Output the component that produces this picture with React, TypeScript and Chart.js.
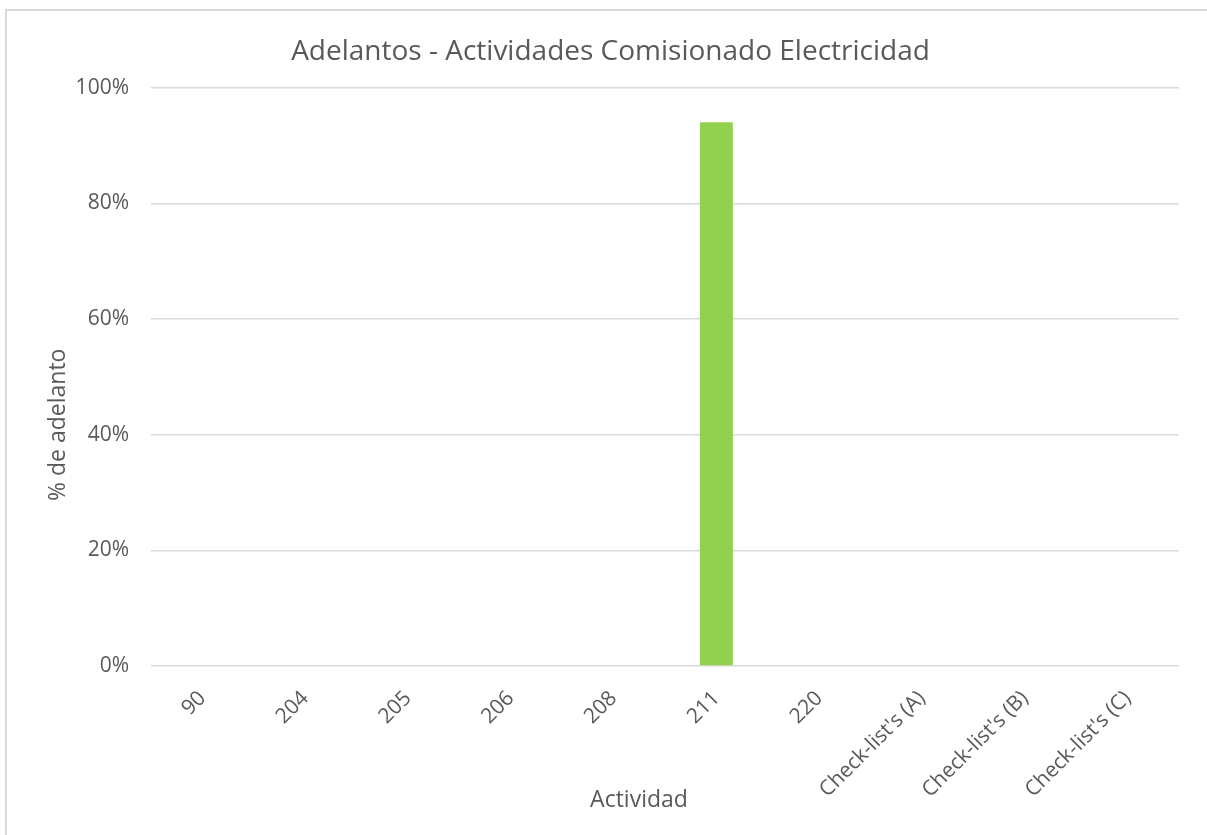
import React, { useEffect, useRef } from "react";
import { Chart, registerables } from "chart.js";

Chart.register(...registerables);

const categories: string[] = ["90", "204", "205", "206", "208", "211", "220", "Check-list's (A)", "Check-list's (B)", "Check-list's (C)"];
const adelantoValues: number[] = [0, 0, 0, 0, 0, 94, 0, 0, 0, 0];
const yTicks: number[] = [0, 20, 40, 60, 80, 100];
const xAxisTitle = "Actividad";
const yAxisTitle = "% de adelanto";

const TEXT = "#595959";
const GRID = "#d9d9d9";
const FONT = "'Open Sans', 'DejaVu Sans', sans-serif";

const axisTitlesPlugin = {
  id: "axisTitles",
  afterDraw(chart: any) {
    const { ctx, chartArea } = chart;
    ctx.save();
    ctx.fillStyle = TEXT;
    ctx.font = `23px ${FONT}`;
    ctx.textAlign = "center";
    ctx.textBaseline = "middle";
    // x-axis title, placed as in the reference (slightly left of plot centre)
    ctx.fillText(xAxisTitle, (chartArea.left + chartArea.right) / 2 - 26, 800);
    // y-axis title, rotated
    ctx.translate(58, (chartArea.top + chartArea.bottom) / 2 + 48);
    ctx.rotate(-Math.PI / 2);
    ctx.fillText(yAxisTitle, 0, 0);
    ctx.restore();
  },
};

export default function App() {
  const ref = useRef<HTMLCanvasElement | null>(null);
  useEffect(() => {
    if (!ref.current) return;
    const chart = new Chart(ref.current, {
      type: "bar",
      data: {
        labels: categories,
        datasets: [
          {
            label: yAxisTitle,
            data: adelantoValues,
            backgroundColor: "#92d050",
            borderWidth: 0,
            categoryPercentage: 1,
            barPercentage: 0.32,
          },
        ],
      },
      plugins: [axisTitlesPlugin],
      options: {
        responsive: false,
        animation: false,
        layout: { padding: { left: 42, right: 28, top: 0, bottom: 0 } },
        plugins: {
          legend: { display: false },
          tooltip: { enabled: false },
          title: {
            display: true,
            text: "Adelantos - Actividades Comisionado Electricidad",
            color: TEXT,
            font: { family: FONT, size: 28, weight: "normal", lineHeight: 1.2 },
            padding: { top: 35, bottom: 19 },
          },
        },
        scales: {
          x: {
            grid: { display: false, drawTicks: false },
            border: { display: false },
            ticks: {
              color: TEXT,
              font: { family: FONT, size: 21 },
              maxRotation: 45,
              minRotation: 45,
              padding: 20,
              autoSkip: false,
            },
            afterFit: (scale: any) => {
              scale.height = 169;
            },
          },
          y: {
            min: 0,
            max: 100,
            afterBuildTicks: (scale: any) => {
              scale.ticks = yTicks.map((v) => ({ value: v }));
            },
            grid: { color: GRID, lineWidth: 1.5, drawTicks: false },
            border: { display: false },
            ticks: {
              color: TEXT,
              font: { family: FONT, size: 21 },
              padding: 22,
              callback: (v: any) => `${v}%`,
            },
            afterFit: (scale: any) => {
              scale.width = 109;
            },
          },
        },
      },
    });
    return () => chart.destroy();
  }, []);

  return (
    <div style={{ position: "fixed", left: 0, top: 0, width: 1207, height: 835, overflow: "hidden", background: "#fff" }}>
      <div
        style={{
          position: "absolute",
          left: 5,
          top: 9,
          width: 1230,
          height: 860,
          border: `2px solid ${GRID}`,
          boxSizing: "border-box",
        }}
      />
      <canvas ref={ref} width={1207} height={835} style={{ position: "absolute", left: 0, top: 0, display: "block" }} />
    </div>
  );
}
